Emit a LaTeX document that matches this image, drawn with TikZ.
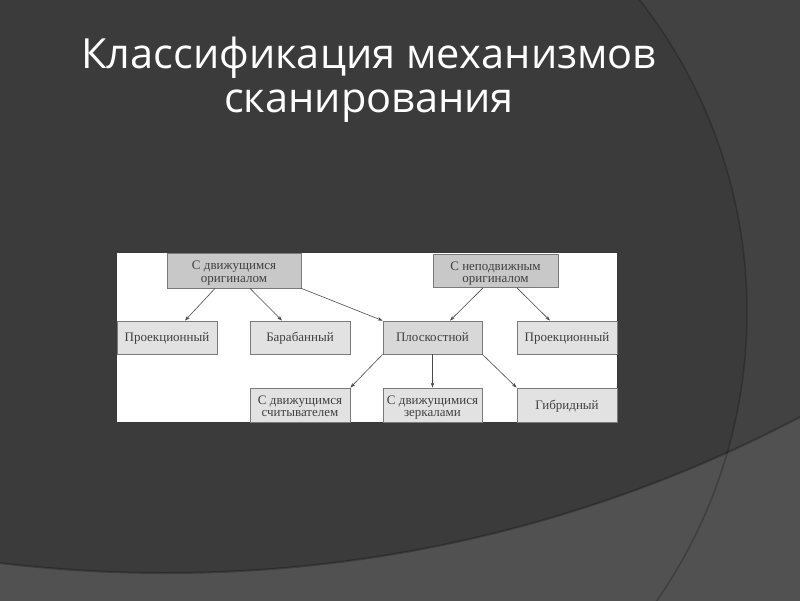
\documentclass[tikz,border=0pt]{standalone}
\usepackage{fontspec}
\setmainfont{Liberation Serif}
\newfontfamily\titlefont{Open Sans}
\usepackage{xcolor}
\usetikzlibrary{positioning, arrows.meta}

\definecolor{bgdark}{HTML}{3B3B3B}
\definecolor{bgright}{HTML}{424242}
\definecolor{bglow}{HTML}{515151}
\definecolor{boxdark}{HTML}{C8C8C8}
\definecolor{boxlight}{HTML}{E2E2E2}
\definecolor{boxline}{HTML}{7A7A7A}
\definecolor{arrline}{HTML}{4A4A4A}

\begin{document}
\begin{tikzpicture}[x=1pt, y=-1pt,
    main/.style = {draw=boxline, line width=0.8pt, fill=boxlight, inner sep=0pt,
        minimum width=100pt, minimum height=33pt, align=center,
        font=\fontsize{13}{12.5}\selectfont, text=black!75},
    one/.style = {main, text height=11pt, text depth=3pt},
    two/.style = {main, text height=23pt, text depth=0pt},
    top/.style = {two, fill=boxdark},
    >={Stealth[length=5pt, width=3.5pt]}]
    \useasboundingbox (0,0) rectangle (800,600);
    % background
    \fill[bgdark] (0,0) rectangle (800,600);
    \begin{scope}
        \clip (0,0) rectangle (800,600);
        \fill[bgright, even odd rule] (240,312) circle (507pt) (-800,-800) rectangle (1600,1600);
        \fill[bgdark] (0,0) rectangle (600,600);
        \fill[bglow, even odd rule] (166,-791) circle (1364pt) (-800,-800) rectangle (1600,1600);
        \draw[black, opacity=0.25, line width=2pt] (166,-791) circle (1364pt);
        \draw[black, opacity=0.22, line width=1.5pt] (240,312) circle (507pt);
    \end{scope}

    % title
    \node[anchor=base, text=white, font=\titlefont\fontsize{41.5}{44}\selectfont] (t1) at (369,68) {Классификация механизмов};
    \node[anchor=base, text=white, font=\titlefont\fontsize{41.5}{44}\selectfont] (t2) at (369,112) {сканирования};

    % scheme
    \fill[white] (117,253) rectangle (617,422);
    \node[top, minimum width=134pt, minimum height=35pt] (mov) at (234,270.5) {С движущимся\\оригиналом};
    \node[top, minimum width=125pt] (fix) at (495.5,271) {С неподвижным\\оригиналом};
    \node[one] (proj1) at (167,337.5) {Проекционный};
    \node[one] (drum) at (300,337.5) {Барабанный};
    \node[one, minimum width=99pt, fill=boxlight!90!gray] (flat) at (432.5,337.5) {Плоскостной};
    \node[one] (proj2) at (567,337.5) {Проекционный};
    \node[two, minimum height=34pt] (rdr) at (300,405) {С движущимся\\считывателем};
    \node[two, minimum width=99pt, minimum height=34pt] (mir) at (432.5,405) {С движущимися\\зеркалами};
    \node[one, minimum height=34pt] (hyb) at (567,405) {Гибридный};

    \draw[->, arrline, line width=0.6pt] ([xshift=-19pt]mov.south) -- ([xshift=18pt]proj1.north);
    \draw[->, arrline, line width=0.6pt] ([xshift=16pt]mov.south) -- ([xshift=-18pt]drum.north);
    \draw[->, arrline, line width=0.6pt] (mov.south east) -- (flat.north west);
    \draw[->, arrline, line width=0.6pt] ([xshift=-12.5pt]fix.south) -- ([xshift=17.5pt]flat.north);
    \draw[->, arrline, line width=0.6pt] ([xshift=21.5pt]fix.south) -- ([xshift=-17pt]proj2.north);
    \draw[->, arrline, line width=0.6pt] (flat.south west) -- (rdr.north east);
    \draw[->, arrline, line width=0.6pt] (flat.south) -- (mir.north);
    \draw[->, arrline, line width=0.6pt] (flat.south east) -- (hyb.north west);
\end{tikzpicture}
\end{document}
